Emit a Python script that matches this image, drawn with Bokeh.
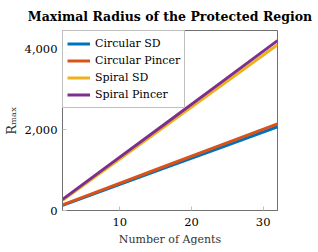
from bokeh.plotting import figure
from bokeh.models import NumeralTickFormatter, FixedTicker, Legend, LegendItem, Range1d
from bokeh.embed import file_html
from bokeh.resources import INLINE

agents = [2, 8, 16, 24, 32]
circular_sd = [125, 515, 1035, 1550, 2070]
circular_pincer = [140, 540, 1075, 1610, 2140]
spiral_sd = [255, 1020, 2045, 3070, 4100]
spiral_pincer = [275, 1060, 2100, 3150, 4200]

series = [
    ("Circular SD", circular_sd, "#0072BD"),
    ("Circular Pincer", circular_pincer, "#D95319"),
    ("Spiral SD", spiral_sd, "#EDB120"),
    ("Spiral Pincer", spiral_pincer, "#7E2F8E"),
]

FONT = "DejaVu Serif"

p = figure(frame_width=215, frame_height=180, output_backend="svg", toolbar_location=None,
           x_range=Range1d(2, 32), y_range=Range1d(0, 4450),
           min_border_left=54, min_border_right=41, min_border_top=22, min_border_bottom=33)
p.title.text = "Maximal Radius of the Protected Region"
p.title.text_font = FONT
p.title.text_font_size = "12.5px"
p.title.text_font_style = "bold"
p.title.align = "center"
p.title.text_color = "#000000"
p.title.standoff = 13
p.title.offset = 0

items = []
for name, vals, col in series:
    r = p.line(agents, vals, line_color=col, line_width=3)
    items.append(LegendItem(label=name, renderers=[r]))

legend = Legend(items=items, location="top_left",
                label_text_font=FONT, label_text_font_size="11px",
                label_text_color="#000000")
p.add_layout(legend, "center")
lg = legend
lg.margin = 0
lg.padding = 4
lg.spacing = 0
lg.label_height = 17
lg.glyph_width = 23
lg.glyph_height = 17
lg.label_standoff = 5
lg.border_line_color = "#808080"
lg.border_line_width = 1
lg.background_fill_alpha = 1.0

p.grid.visible = False
p.outline_line_color = "#707070"
p.outline_line_width = 1

for ax in (p.xaxis[0], p.yaxis[0]):
    ax.axis_line_color = "#707070"
    ax.major_tick_in = 4
    ax.major_tick_out = 0
    ax.minor_tick_line_color = None
    ax.major_tick_line_color = "#c0c0c0"
    ax.major_label_text_font = FONT
    ax.major_label_text_font_size = "11.5px"
    ax.major_label_text_color = "#000000"
    ax.axis_label_text_font = FONT
    ax.axis_label_text_font_size = "11px"
    ax.axis_label_text_font_style = "normal"
    ax.axis_label_text_color = "#333333"

p.xaxis[0].ticker = FixedTicker(ticks=[10, 20, 30])
p.yaxis[0].ticker = FixedTicker(ticks=[0, 2000, 4000])
p.yaxis[0].formatter = NumeralTickFormatter(format="0,0")
p.xaxis[0].axis_label = "Number of Agents"
p.yaxis[0].axis_label = "Rₘₐₓ"
p.yaxis[0].axis_label_text_font_size = "13px"
p.xaxis[0].major_label_standoff = 7
p.yaxis[0].major_label_standoff = 5
p.xaxis[0].axis_label_standoff = 4
p.yaxis[0].axis_label_standoff = 3

open("out.html", "w").write(file_html(p, INLINE))
